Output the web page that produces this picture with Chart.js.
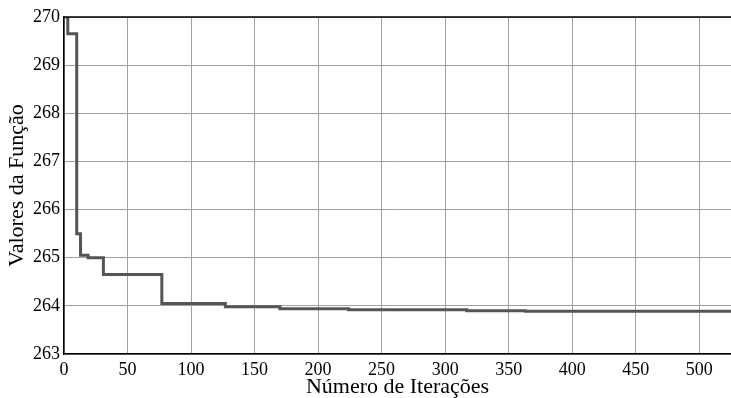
<!DOCTYPE html>
<html>
<head>
<meta charset="utf-8">
<script src="https://cdn.jsdelivr.net/npm/chart.js@4"></script>
<style>
  html, body { margin: 0; padding: 0; background: #fff; }
  #wrap { width: 731px; height: 398px; }
</style>
</head>
<body>
<div id="wrap"><canvas id="c"></canvas></div>
<script>
'use strict';

// ── Data ──────────────────────────────────────────────────────
const iterations = [1, 3, 10, 13, 19, 31, 77, 127, 170, 224, 317, 363, 525];
const values     = [270, 269.65, 265.5, 265.05, 265.0, 264.65, 264.05, 263.98, 263.94, 263.92, 263.90, 263.89, 263.89];
const xTicks     = [0, 50, 100, 150, 200, 250, 300, 350, 400, 450, 500];
const yTicks     = [263, 264, 265, 266, 267, 268, 269, 270];

const FONT = 'Liberation Serif';

// top frame line
const frameTop = {
  id: 'frameTop',
  afterDraw(chart) {
    const { ctx, chartArea: a } = chart;
    ctx.save();
    ctx.strokeStyle = '#000';
    ctx.lineWidth = 1.5;
    ctx.beginPath();
    ctx.moveTo(a.left, a.top);
    ctx.lineTo(a.right, a.top);
    ctx.stroke();
    ctx.restore();
  }
};

new Chart(document.getElementById('c'), {
  type: 'line',
  data: {
    datasets: [{
      data: iterations.map((x, i) => ({ x, y: values[i] })),
      borderColor: '#555555',
      borderWidth: 3,
      pointRadius: 0,
      stepped: true,
      fill: false
    }]
  },
  options: {
    responsive: true,
    maintainAspectRatio: false,
    animation: false,
    layout: { padding: { top: 17, right: 0, left: 0, bottom: 0 } },
    plugins: { legend: { display: false }, tooltip: { enabled: false } },
    scales: {
      x: {
        type: 'linear',
        min: 0,
        max: 525,
        afterBuildTicks: s => { s.ticks = xTicks.map(v => ({ value: v })); },
        afterFit: s => { s.height = 44; },
        grid: { color: '#a0a0a0', lineWidth: 1, drawTicks: false },
        border: { color: '#000', width: 1.5 },
        ticks: { color: '#000', font: { family: FONT, size: 18 }, padding: 5, maxRotation: 0 },
        title: {
          display: true,
          text: 'Número de Iterações',
          color: '#000',
          font: { family: FONT, size: 22 },
          padding: { top: 0, bottom: -2 }
        }
      },
      y: {
        min: 263,
        max: 270,
        afterBuildTicks: s => { s.ticks = yTicks.map(v => ({ value: v })); },
        afterFit: s => { s.width = 64; },
        grid: { color: '#a0a0a0', lineWidth: 1, drawTicks: false },
        border: { color: '#000', width: 1.5 },
        ticks: { color: '#000', font: { family: FONT, size: 18 }, padding: 4 },
        title: {
          display: true,
          text: 'Valores da Função',
          color: '#000',
          font: { family: FONT, size: 22 },
          padding: { top: 4, bottom: 0 }
        }
      }
    }
  },
  plugins: [frameTop]
});
</script>
</body>
</html>
